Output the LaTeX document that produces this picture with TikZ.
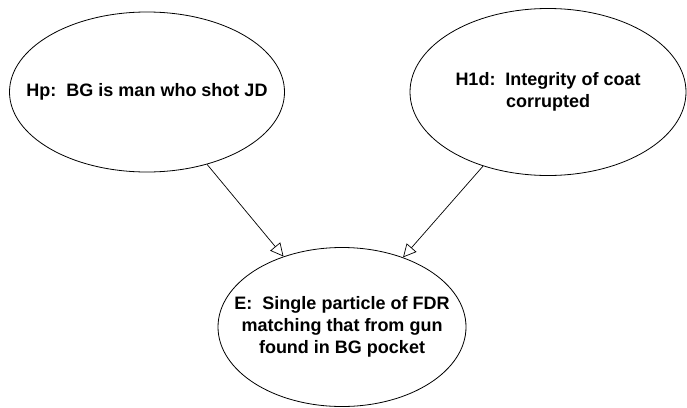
\documentclass[tikz,border=0pt]{standalone}
\usepackage{fontspec}
\setmainfont{Liberation Sans}
\usetikzlibrary{shapes.geometric, arrows.meta, positioning}

\tikzset{
  hyp/.style={ellipse, draw, line width=0.8pt, inner sep=0pt},
  txt/.style={align=center, font=\fontsize{18}{22}\selectfont\bfseries},
  link/.style={line width=0.7pt, -{Triangle[open, length=13pt, width=13pt]}}
}

\begin{document}
\begin{tikzpicture}[x=1pt, y=-1pt]
  \useasboundingbox (0,0) rectangle (687,407);
  \node[hyp, minimum width=275pt, minimum height=160pt] (Hp) at (147,92) {};
  \node[hyp, minimum width=276pt, minimum height=167pt] (H1d) at (548,92) {};
  \node[hyp, minimum width=248pt, minimum height=159pt] (E) at (342,327) {};
  \node[txt] (HpText) at (Hp) {Hp:\ \ BG is man who shot JD};
  \node[txt] (H1dText) at (H1d) {H1d:\ \ Integrity of coat\\corrupted};
  \node[txt] (EText) at (E) {E:\ \ Single particle of FDR\\matching that from gun\\found in BG pocket};
  \draw[link] (Hp) -- (E);
  \draw[link] (H1d) -- (E);
\end{tikzpicture}
\end{document}
